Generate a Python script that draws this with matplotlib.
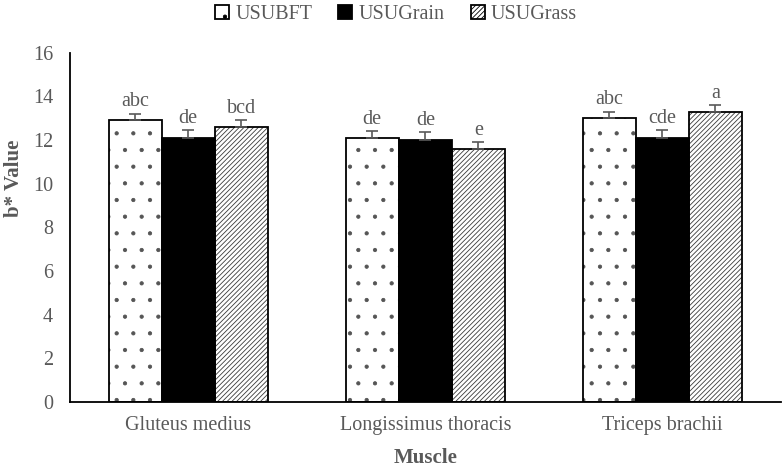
import numpy as np
import matplotlib
matplotlib.use("Agg")
import matplotlib.pyplot as plt
from matplotlib.patches import Patch

plt.rcParams['font.family'] = ['Liberation Serif', 'DejaVu Serif']
plt.rcParams['hatch.linewidth'] = 0.6

muscles = ['Gluteus medius', 'Longissimus thoracis', 'Triceps brachii']
series = ['USUBFT', 'USUGrain', 'USUGrass']
bft = [12.9, 12.1, 13.0]
grain = [12.1, 12.0, 12.1]
grass = [12.6, 11.6, 13.3]
bft_err = [0.3, 0.3, 0.3]
grain_err = [0.35, 0.35, 0.35]
grass_err = [0.3, 0.3, 0.3]
bft_letters = ['abc', 'de', 'abc']
grain_letters = ['de', 'de', 'cde']
grass_letters = ['bcd', 'e', 'a']

grey = '#595959'
fig = plt.figure(figsize=(7.84, 4.67), dpi=100)
ax = fig.add_axes([0.089, 0.139, 0.907, 0.748])

x = np.arange(len(muscles))
w = 0.224
styles = [('white', '.', '#555555'), ('black', None, 'black'), ('white', '///////', '#3a3a3a')]
vals = [bft, grain, grass]
errs = [bft_err, grain_err, grass_err]
letters = [bft_letters, grain_letters, grass_letters]

handles = []
for i, (fc, hatch, hc) in enumerate(styles):
    pos = x + (i - 1) * w
    # hatch layer in grey, outline drawn on top in black
    ax.bar(pos, vals[i], w, color=fc, edgecolor=hc, linewidth=0,
           hatch=hatch, zorder=2)
    ax.bar(pos, vals[i], w, fill=False, edgecolor='black', linewidth=1.3, zorder=2.5)
    ax.errorbar(pos, vals[i], yerr=[np.zeros(3), errs[i]], fmt='none',
                ecolor=grey, elinewidth=1.2, capsize=4, capthick=1.2, zorder=3)
    for p, v, e, t in zip(pos, vals[i], errs[i], letters[i]):
        ax.text(p, v + e + 0.12, t, ha='center', va='bottom', fontsize=14.5, color=grey)
    handles.append(Patch(facecolor=fc, edgecolor='black', hatch=hatch, linewidth=1.3))

ax.set_ylim(0, 16)
ax.set_xlim(-0.5, 2.5)
ax.set_yticks(range(0, 17, 2))
ax.set_xticks(x)
ax.set_xticklabels(muscles)
ax.tick_params(axis='both', length=0, labelsize=14.5, labelcolor=grey)
ax.tick_params(axis='y', pad=12)
ax.tick_params(axis='x', pad=10)
for s in ['top', 'right']:
    ax.spines[s].set_visible(False)
for s in ['left', 'bottom']:
    ax.spines[s].set_linewidth(1.3)

ax.set_ylabel('b* Value', fontsize=15, fontweight='bold', color=grey)
ax.yaxis.set_label_coords(-0.064, 0.64)
ax.set_xlabel('Muscle', fontsize=15, fontweight='bold', color=grey)
ax.xaxis.set_label_coords(0.5, -0.131)

fig.legend(handles=handles, labels=series, loc='upper center', ncol=3,
           bbox_to_anchor=(0.505, 1.028), frameon=False, fontsize=14.5,
           handlelength=0.7, handleheight=0.7, columnspacing=1.3, handletextpad=0.3,
           labelcolor=grey)

fig.savefig('out.png', dpi=100)
